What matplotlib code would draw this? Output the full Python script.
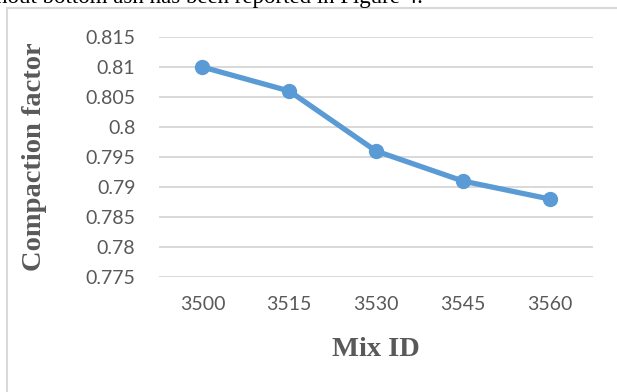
import matplotlib
matplotlib.use("Agg")
import matplotlib.pyplot as plt
from matplotlib.patches import Rectangle

# Compaction factor for each mix
mix_ids = ['3500', '3515', '3530', '3545', '3560']
compaction = [0.810, 0.806, 0.796, 0.791, 0.788]
yticks = [0.775, 0.78, 0.785, 0.79, 0.795, 0.8, 0.805, 0.81, 0.815]
ytick_labels = ['0.775', '0.78', '0.785', '0.79', '0.795', '0.8', '0.805', '0.81', '0.815']

W, H = 617, 392
grey = '#595959'
gridc = '#d9d9d9'
blue = '#5b9bd5'

fig = plt.figure(figsize=(W / 100, H / 100), dpi=100)
fig.patch.set_facecolor('white')

# chart frame, runs off the right and bottom of the page crop
fig.patches.append(Rectangle((6.5 / W, -0.1), 1.2, 1 - 8.5 / H + 0.1,
                             transform=fig.transFigure, fill=False,
                             edgecolor=gridc, lw=1.5))

# body text line above the chart, cut at the top
fig.text(-4 / W, 1 - 3.5 / H, 'hout bottom ash has been reported in Figure 4.',
         family='Liberation Serif', fontsize=16.5, color='black',
         ha='left', va='baseline')

ax = fig.add_axes([159 / W, 1 - 277 / H, (593 - 159) / W, 240 / H])
x = list(range(len(mix_ids)))
ax.plot(x, compaction, '-o', color=blue, lw=3.8, ms=10, solid_capstyle='round')

ax.set_xlim(-0.5, len(mix_ids) - 0.5)
ax.set_ylim(0.775, 0.815)
ax.set_xticks(x)
ax.set_xticklabels(mix_ids)
ax.set_yticks(yticks)
ax.set_yticklabels(ytick_labels)

for s in ax.spines.values():
    s.set_visible(False)
ax.grid(axis='y', color=gridc, lw=1.4)
ax.set_axisbelow(True)
ax.tick_params(length=0, labelsize=14, labelcolor=grey)
ax.tick_params(axis='y', pad=17)
ax.tick_params(axis='x', pad=14)
for t in ax.get_xticklabels() + ax.get_yticklabels():
    t.set_family('Lato')

ax.set_ylabel('Compaction factor', family='Liberation Serif', weight='bold',
              fontsize=20.5, color=grey)
ax.yaxis.set_label_coords((35 - 159) / 434, 0.5)
ax.yaxis.label.set_va('center')
ax.set_xlabel('Mix ID', family='Liberation Serif', weight='bold',
              fontsize=20.5, color=grey)
ax.xaxis.set_label_coords(0.5, (277 - 349) / 240)
ax.xaxis.label.set_va('center')

fig.savefig('out.png', dpi=100)
